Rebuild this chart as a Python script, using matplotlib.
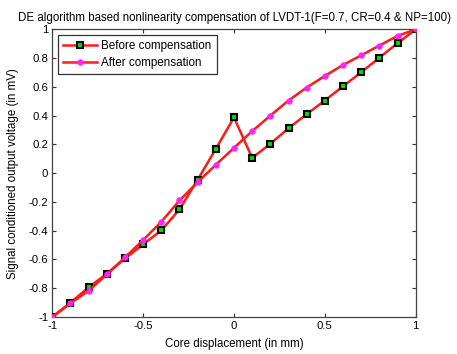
import matplotlib
matplotlib.use("Agg")
import matplotlib.pyplot as plt
import numpy as np

x = [-1.0, -0.9, -0.8, -0.7, -0.6, -0.5, -0.4, -0.3, -0.2, -0.1, 0.0,
     0.1, 0.2, 0.3, 0.4, 0.5, 0.6, 0.7, 0.8, 0.9, 1.0]
before = [-1.0, -0.90, -0.794, -0.699, -0.593, -0.495, -0.398, -0.252, -0.046, 0.169, 0.387,
          0.106, 0.204, 0.312, 0.41, 0.505, 0.604, 0.701, 0.803, 0.903, 1.0]
after = [-1.0, -0.905, -0.817, -0.704, -0.586, -0.465, -0.338, -0.19, -0.0625, 0.058, 0.176,
         0.292, 0.40, 0.505, 0.595, 0.676, 0.752, 0.819, 0.887, 0.954, 1.0]
xticks = [-1, -0.5, 0, 0.5, 1]
xticklabels = ["-1", "-0.5", "0", "0.5", "1"]
yticks = [-1, -0.8, -0.6, -0.4, -0.2, 0, 0.2, 0.4, 0.6, 0.8, 1]
yticklabels = ["-1", "-0.8", "-0.6", "-0.4", "-0.2", "0", "0.2", "0.4", "0.6", "0.8", "1"]

plt.rcParams['font.family'] = ['Liberation Sans', 'DejaVu Sans']

fig = plt.figure(figsize=(4.57, 3.54), dpi=100)
ax = fig.add_axes([52.3/457, 1-317/354, (415.7-52.3)/457, (317-29.3)/354])

ax.plot(x, before, color='#ff1a1a', lw=1.8, marker='s', ms=4.6, mfc='#00dd00',
        mec='black', mew=1.5, label='Before compensation', zorder=3)
ax.plot(x, after, color='#ff1a1a', lw=1.8, marker='o', ms=4.0, mfc='#ff22ff',
        mec='#ff22ff', mew=0.5, label='After compensation', zorder=3)

ax.set_xlim(-1, 1)
ax.set_ylim(-1, 1)
ax.set_xticks(xticks)
ax.set_xticklabels(xticklabels)
ax.set_yticks(yticks)
ax.set_yticklabels(yticklabels)
ax.tick_params(direction='in', top=True, right=True, labelsize=8.2, length=3,
               width=0.8, colors='#333333', labelcolor='black', pad=3)
for s in ax.spines.values():
    s.set_color('#444444')
    s.set_linewidth(0.9)

ax.set_title('DE algorithm based nonlinearity compensation of LVDT-1(F=0.7, CR=0.4 & NP=100)',
             fontsize=8.3, pad=6)
ax.set_xlabel('Core displacement (in mm)', fontsize=8.3, labelpad=5)
ax.set_ylabel('Signal conditioned output voltage (in mV)', fontsize=8.3, labelpad=7)

leg = ax.legend(loc='upper left', fontsize=8.4, frameon=True, fancybox=False,
                edgecolor='black', borderpad=0.45, handlelength=2.9,
                labelspacing=0.45, borderaxespad=0.45, handletextpad=0.4)
leg.get_frame().set_linewidth(0.9)

fig.savefig('out.png', dpi=100)
